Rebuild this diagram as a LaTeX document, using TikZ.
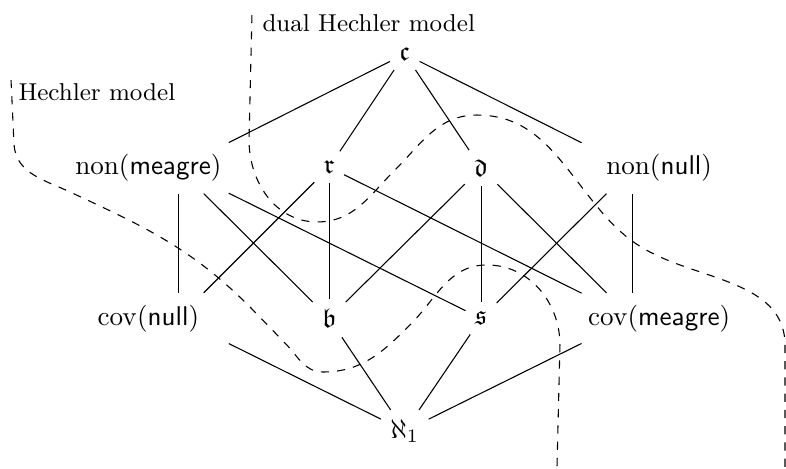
\documentclass[tikz,border=0pt]{standalone}
\usepackage{amsmath}
\usepackage{amssymb}
\usetikzlibrary{positioning}

\begin{document}
\begin{tikzpicture}[
    box/.style={rectangle, minimum width=1.3cm, minimum height=0.65cm, inner sep=0pt},
    card/.style={rectangle, inner sep=0.3333em},
    model/.style={dashed},
    tag/.style={font=\small, inner sep=0pt, anchor=base west}
]
\useasboundingbox (0,0) rectangle (10.195,-6.083);

\node[card] (cont) at (5.25,-0.70) {$\mathfrak{c}$};
\node[box, label={[xshift=-0.385cm]center:$\mathrm{non}(\mathsf{meagre})$}] (nonM) at (2.31,-2.18) {};
\node[card] (reap) at (4.27,-2.17) {$\mathfrak{r}$};
\node[card] (dom) at (6.24,-2.18) {$\mathfrak{d}$};
\node[box, label={[xshift=0.35cm]center:$\mathrm{non}(\mathsf{null})$}] (nonN) at (8.20,-2.18) {};
\node[box, label={[xshift=-0.385cm]center:$\mathrm{cov}(\mathsf{null})$}] (covN) at (2.31,-4.13) {};
\node[card] (bnd) at (4.27,-4.13) {$\mathfrak{b}$};
\node[card] (spl) at (6.24,-4.13) {$\mathfrak{s}$};
\node[box, label={[xshift=0.35cm]center:$\mathrm{cov}(\mathsf{meagre})$}] (covM) at (8.20,-4.13) {};
\node[card] (aleph) at (5.25,-5.59) {$\aleph_1$};

\draw (cont) -- (nonM);
\draw (cont) -- (reap);
\draw (cont) -- (dom);
\draw (cont) -- (nonN);
\draw (nonM) -- (covN);
\draw (nonM) -- (bnd);
\draw (nonM) -- (spl);
\draw (reap) -- (covN);
\draw (reap) -- (bnd);
\draw (reap) -- (covM);
\draw (dom) -- (bnd);
\draw (dom) -- (spl);
\draw (dom) -- (covM);
\draw (nonN) -- (spl);
\draw (nonN) -- (covM);
\draw (covN) -- (aleph);
\draw (bnd) -- (aleph);
\draw (spl) -- (aleph);
\draw (covM) -- (aleph);

% Hechler model
\coordinate (hStart) at (0.143,-1.038);
\coordinate (hEnd) at (7.224,-6.083);
\draw[model] (hStart) -- (0.182,-1.881)
    to[out=-85,in=155] (0.908,-2.490)
    to[out=-25,in=135] (3.243,-3.982)
    -- (3.696,-4.449)
    to[out=-45,in=180] (4.189,-4.825)
    to[out=0,in=-135] (5.318,-4.215)
    to[out=45,in=180] (6.316,-3.437)
    to[out=0,in=90] (7.263,-4.475)
    -- (hEnd);
\node[tag] (hLabel) at (0.233,-1.310) {Hechler model};

% dual Hechler model
\coordinate (dStart) at (3.268,-0.195);
\coordinate (dEnd) at (10.182,-6.083);
\draw[model] (dStart) -- (3.230,-1.816)
    to[out=-90,in=180] (4.112,-2.879)
    to[out=0,in=-135] (5.123,-2.205)
    to[out=45,in=180] (6.187,-1.492)
    to[out=0,in=130] (7.782,-2.724)
    to[out=-50,in=160] (8.820,-3.437)
    to[out=-20,in=90] (10.182,-4.475)
    -- (dEnd);
\node[tag] (dLabel) at (3.398,-0.415) {dual Hechler model};

\end{tikzpicture}
\end{document}
